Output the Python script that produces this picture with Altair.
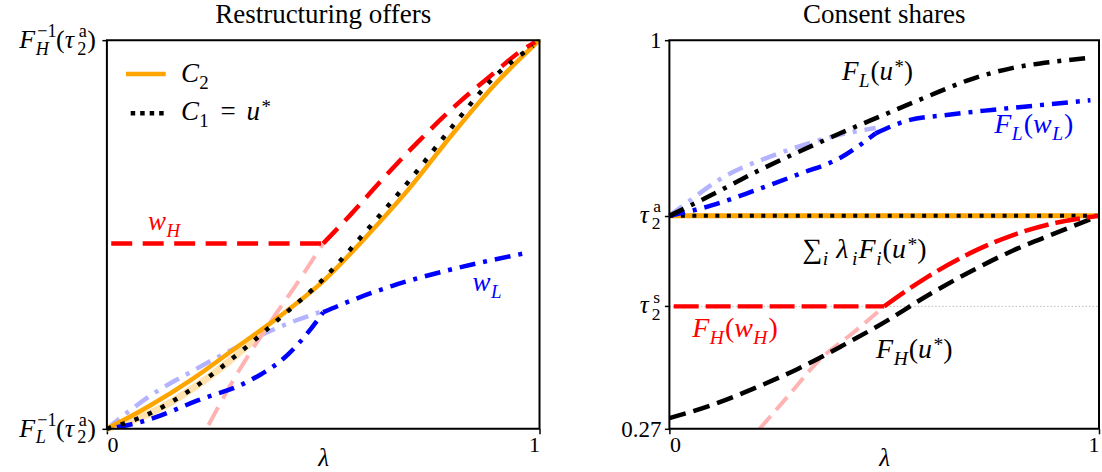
import altair as alt
import pandas as pd

SERIF = "Liberation Serif"
ORANGE, RED, BLUE, BLACK = "#ffa500", "#ff0000", "#0000ff", "#000000"
PINK, LIGHTBLUE, LIGHTORANGE = "#ffb3b3", "#b3b3ff", "#ffe2ad"

# ---------------- Restructuring offers (left panel) ----------------
lam_c2 = [0.0, 0.1, 0.2, 0.3, 0.4, 0.5, 0.6, 0.7, 0.8, 0.9, 1.0]
c2 = [0.0, 0.06, 0.13, 0.21, 0.29, 0.38, 0.495, 0.62, 0.76, 0.89, 1.0]

lam_c1 = [0.0, 0.1, 0.2, 0.3, 0.4, 0.5, 0.6, 0.7, 0.8, 0.9, 0.985]
c1 = [0.0, 0.04, 0.105, 0.19, 0.285, 0.385, 0.51, 0.64, 0.78, 0.91, 0.985]

lam_c1_faded = [0.0, 0.1, 0.2, 0.3, 0.36]
c1_faded = [0.0, 0.04, 0.105, 0.19, 0.25]

lam_wh_flat = [0.01, 0.5]
wh_flat = [0.477, 0.477]
lam_wh = [0.5, 0.565, 0.627, 0.718, 0.818, 0.892, 0.958, 0.99]
wh = [0.477, 0.553, 0.63, 0.737, 0.844, 0.913, 0.973, 0.995]

lam_wh_faded = [0.235, 0.30, 0.38, 0.44, 0.50]
wh_faded = [0.01, 0.14, 0.278, 0.375, 0.477]

lam_wl_low = [0.023, 0.089, 0.21, 0.33, 0.42, 0.462, 0.50]
wl_low = [0.004, 0.021, 0.073, 0.124, 0.193, 0.244, 0.30]
lam_wl_high = [0.50, 0.536, 0.66, 0.785, 0.967]
wl_high = [0.30, 0.317, 0.368, 0.407, 0.452]

lam_wl_faded = [0.0, 0.1, 0.2, 0.3, 0.38, 0.44, 0.5]
wl_faded = [0.0, 0.085, 0.15, 0.21, 0.253, 0.28, 0.303]

# ---------------- Consent shares (right panel) ----------------
TAU_A, TAU_S, Y_MIN = 0.67, 0.50, 0.27

lam_flu = [0.0, 0.1, 0.2, 0.3, 0.4, 0.5, 0.6, 0.7, 0.8, 0.9, 0.98]
flu = [0.67, 0.71, 0.752, 0.79, 0.826, 0.86, 0.894, 0.926, 0.948, 0.96, 0.967]

lam_flw_low = [0.0, 0.1, 0.2, 0.3, 0.4, 0.48]
flw_low = [0.67, 0.69, 0.718, 0.748, 0.78, 0.825]
lam_flw_high = [0.48, 0.55, 0.65, 0.75, 0.85, 0.98]
flw_high = [0.825, 0.848, 0.86, 0.869, 0.877, 0.887]

lam_flw_faded = [0.0, 0.05, 0.12, 0.23, 0.30, 0.40, 0.48]
flw_faded = [0.67, 0.70, 0.74, 0.78, 0.80, 0.823, 0.835]

lam_fhu = [0.0, 0.1, 0.2, 0.3, 0.4, 0.5, 0.6, 0.7, 0.8, 0.9, 1.0]
fhu = [0.29, 0.315, 0.347, 0.383, 0.425, 0.47, 0.52, 0.565, 0.605, 0.638, 0.67]

lam_fhw_flat = [0.01, 0.5]
fhw_flat = [0.50, 0.50]
lam_fhw = [0.5, 0.6, 0.7, 0.8, 0.9, 1.0]
fhw = [0.50, 0.555, 0.60, 0.634, 0.657, 0.67]

lam_fhw_faded = [0.21, 0.28, 0.35, 0.43, 0.50]
fhw_faded = [0.27, 0.335, 0.40, 0.452, 0.50]

lam_sum = [0.0, 1.0]
sum_share = [TAU_A, TAU_A]

W_LEFT, W_RIGHT, HEIGHT = 433, 430, 389

# Approximate advance widths (em) for the serif faces used in the math labels
RM_W = {"0": .5, "1": .5, "2": .5, "7": .5, ".": .25, "(": .333, ")": .333,
        "=": .564, "−": .564, "a": .444, "s": .389, "*": .5, "∑": .72}
IT_W = {"F": .611, "H": .722, "L": .556, "C": .667, "u": .5, "w": .667,
        "i": .278, "λ": .55, "τ": .46}


def text_width(s, size, italic):
    table = IT_W if italic else RM_W
    return sum(table.get(ch, 0.5) for ch in s) * size


def piece_width(p, size):
    if p[0] == "sp":
        return p[1] * size
    if p[0] == "stack":
        _, sub, sup = p
        return max(text_width(sub[0], size * .7, sub[1]), text_width(sup[0], size * .7, sup[1])) + 1.5
    text, pos, italic = p
    s = size if pos == "n" else size * .7
    return text_width(text, s, italic) + (1.5 if pos != "n" else 0)


def rich(parts, lam, val, xenc, yenc, color, size, align="left", gap=0.0, base_dy=0.0):
    """Math-style label built from upright/italic pieces with sub- and superscripts."""
    total = sum(piece_width(p, size) for p in parts)
    if align == "left":
        cur = gap
    elif align == "right":
        cur = -total - gap
    else:
        cur = -total / 2
    df = pd.DataFrame({"lam": [lam], "val": [val]})
    layers = []

    def put(text, dx, dy, s, italic):
        layers.append(
            alt.Chart(df).mark_text(
                text=text, dx=dx, dy=base_dy + dy, fontSize=s, font=SERIF,
                fontStyle="italic" if italic else "normal",
                align="left", baseline="alphabetic", color=color,
            ).encode(x=xenc, y=yenc)
        )

    for p in parts:
        if p[0] == "stack":
            _, sub, sup = p
            put(sub[0], cur + 0.5, size * .25, size * .7, sub[1])
            put(sup[0], cur + 2.0, -size * .42, size * .7, sup[1])
        elif p[0] != "sp":
            text, pos, italic = p
            if pos == "n":
                put(text, cur, 0, size, italic)
            elif pos == "b":
                put(text, cur + 0.5, size * .25, size * .7, italic)
            else:
                put(text, cur + 1.5, -size * .25, size * .7, italic)
        cur += piece_width(p, size)
    return layers


def axis_x():
    return alt.Axis(values=[0, 1], format="d", title="λ", grid=False, domain=False,
                    tickSize=5, tickWidth=1.5, tickColor=BLACK,
                    labelFont=SERIF, labelFontSize=22, labelColor=BLACK, labelPadding=1,
                    titleFont=SERIF, titleFontStyle="italic", titleFontWeight="normal",
                    titleFontSize=25, titleColor=BLACK, titlePadding=-10)


def axis_y(values):
    return alt.Axis(values=values, labels=False, title=None, grid=False, domain=False,
                    tickSize=5, tickWidth=1.5, tickColor=BLACK)


def curve(lams, vals, xenc, yenc, color, width, dash=None, smooth=True):
    df = pd.DataFrame({"lam": lams, "val": vals})
    kw = dict(color=color, strokeWidth=width, strokeCap="butt", strokeJoin="round")
    if smooth:
        kw["interpolate"] = "monotone"
    if dash:
        kw["strokeDash"] = dash
    return alt.Chart(df).mark_line(**kw).encode(x=xenc, y=yenc)


def frame_and_title(text, width):
    box = alt.Chart(pd.DataFrame({"lam": [0]})).mark_rect(
        fillOpacity=0, stroke=BLACK, strokeWidth=2
    ).encode(x=alt.value(0), x2=alt.value(width), y=alt.value(0), y2=alt.value(HEIGHT))
    title = alt.Chart(pd.DataFrame({"lam": [0]})).mark_text(
        text=text, font=SERIF, fontSize=27, color=BLACK, align="center", baseline="alphabetic"
    ).encode(x=alt.value(width / 2), y=alt.value(-17))
    return [box, title]


DASHDOT = [16, 8, 4, 8]
TICK_DY = 8

# ---------------- left panel ----------------
xl = alt.X("lam:Q", scale=alt.Scale(domain=[0, 1], nice=False, zero=False), axis=axis_x())
yl = alt.Y("val:Q", scale=alt.Scale(domain=[0, 1], nice=False, zero=False), axis=axis_y([0, 1]))

left_layers = [
    curve(lam_wl_faded, wl_faded, xl, yl, LIGHTBLUE, 4.5, DASHDOT),
    curve(lam_c1_faded, c1_faded, xl, yl, LIGHTORANGE, 7),
    curve(lam_wh_faded, wh_faded, xl, yl, PINK, 4, [20, 10]),
    curve(lam_c2, c2, xl, yl, ORANGE, 4.5),
    curve(lam_wl_low, wl_low, xl, yl, BLUE, 4.5, DASHDOT),
    curve(lam_wl_high, wl_high, xl, yl, BLUE, 4.5, DASHDOT),
    curve(lam_wh_flat, wh_flat, xl, yl, RED, 4.5, [21, 10.5], smooth=False),
    curve(lam_wh, wh, xl, yl, RED, 4.5, [21, 10.5]),
    curve(lam_c1, c1, xl, yl, BLACK, 4.5, [4.5, 10]),
]

# legend
left_layers.append(curve([0.044, 0.136], [0.913, 0.913], xl, yl, ORANGE, 4.5, smooth=False))
left_layers.append(curve([0.055, 0.14], [0.812, 0.812], xl, yl, BLACK, 4.5, [4.5, 5], smooth=False))
left_layers += rich([("C", "n", True), ("2", "b", False)], 0.171, 0.892, xl, yl, BLACK, 27)
left_layers += rich([("C", "n", True), ("1", "b", False), ("sp", 0.4), ("=", "n", False),
                     ("sp", 0.4), ("u", "n", True), ("*", "p", False)],
                    0.171, 0.794, xl, yl, BLACK, 27)

# curve annotations
left_layers += rich([("w", "n", True), ("H", "b", True)], 0.095, 0.512, xl, yl, RED, 27)
left_layers += rich([("w", "n", True), ("L", "b", True)], 0.845, 0.355, xl, yl, BLUE, 27)

# y tick labels
ytick_top = [("F", "n", True), ("stack", ("H", True), ("−1", False)), ("(", "n", False),
             ("τ", "n", True), ("stack", ("2", False), ("a", False)), (")", "n", False)]
ytick_bot = [("F", "n", True), ("stack", ("L", True), ("−1", False)), ("(", "n", False),
             ("τ", "n", True), ("stack", ("2", False), ("a", False)), (")", "n", False)]
for parts, v in [(ytick_top, 1.0), (ytick_bot, 0.0)]:
    left_layers += rich(parts, 0.0, v, xl, yl, BLACK, 26, align="right", gap=11, base_dy=TICK_DY)

left_layers += frame_and_title("Restructuring offers", W_LEFT)

# fixes the top-left corner of the drawing
anchor = alt.Chart(pd.DataFrame({"lam": [0]})).mark_rule(opacity=0).encode(
    x=alt.value(-107), x2=alt.value(-100), y=alt.value(-40)
)
left_layers.append(anchor)

left = alt.layer(*left_layers).properties(width=W_LEFT, height=HEIGHT)

# ---------------- right panel ----------------
xr = alt.X("lam:Q", scale=alt.Scale(domain=[0, 1], nice=False, zero=False), axis=axis_x())
yr = alt.Y("val:Q", scale=alt.Scale(domain=[Y_MIN, 1], nice=False, zero=False),
           axis=axis_y([Y_MIN, TAU_S, TAU_A, 1]))

right_layers = [
    curve([0, 1], [TAU_S, TAU_S], xr, yr, "#bbbbbb", 1, [1.5, 2], smooth=False),
    curve(lam_flw_faded, flw_faded, xr, yr, LIGHTBLUE, 4.5, DASHDOT),
    curve(lam_fhw_faded, fhw_faded, xr, yr, PINK, 4, [17, 8]),
    curve(lam_sum, sum_share, xr, yr, ORANGE, 5, smooth=False),
    curve(lam_sum, sum_share, xr, yr, BLACK, 4, [4, 7.5], smooth=False),
    curve(lam_flw_low, flw_low, xr, yr, BLUE, 4.5, DASHDOT),
    curve(lam_flw_high, flw_high, xr, yr, BLUE, 4.5, DASHDOT),
    curve(lam_flu, flu, xr, yr, BLACK, 4.5, DASHDOT),
    curve(lam_fhu, fhu, xr, yr, BLACK, 4.5, [17, 8]),
    curve(lam_fhw_flat, fhw_flat, xr, yr, RED, 4.5, [25, 7], smooth=False),
    curve(lam_fhw, fhw, xr, yr, RED, 4.5, [25, 7]),
]

right_layers += rich([("F", "n", True), ("L", "b", True), ("(", "n", False), ("u", "n", True),
                      ("*", "p", False), (")", "n", False)], 0.402, 0.925, xr, yr, BLACK, 27)
right_layers += rich([("F", "n", True), ("L", "b", True), ("(", "n", False), ("w", "n", True),
                      ("L", "b", True), (")", "n", False)], 0.756, 0.8255, xr, yr, BLUE, 28)
right_layers += rich([("∑", "n", False), ("i", "b", True), ("sp", 0.25), ("λ", "n", True),
                      ("i", "b", True), ("F", "n", True), ("i", "b", True), ("(", "n", False),
                      ("u", "n", True), ("*", "p", False), (")", "n", False)],
                     0.309, 0.591, xr, yr, BLACK, 28)
right_layers += rich([("F", "n", True), ("H", "b", True), ("(", "n", False), ("w", "n", True),
                      ("H", "b", True), (")", "n", False)], 0.053, 0.443, xr, yr, RED, 28)
right_layers += rich([("F", "n", True), ("H", "b", True), ("(", "n", False), ("u", "n", True),
                      ("*", "p", False), (")", "n", False)], 0.481, 0.403, xr, yr, BLACK, 28)

# y tick labels
right_layers += rich([("1", "n", False)], 0.0, 1.0, xr, yr, BLACK, 23, align="right", gap=8,
                     base_dy=TICK_DY)
right_layers += rich([("τ", "n", True), ("stack", ("2", False), ("a", False))], 0.0, TAU_A,
                     xr, yr, BLACK, 25, align="right", gap=8, base_dy=TICK_DY - 1)
right_layers += rich([("τ", "n", True), ("stack", ("2", False), ("s", False))], 0.0, TAU_S,
                     xr, yr, BLACK, 25, align="right", gap=8, base_dy=TICK_DY - 1)
right_layers += rich([("0.27", "n", False)], 0.0, Y_MIN, xr, yr, BLACK, 23, align="right", gap=8,
                     base_dy=TICK_DY)

right_layers += frame_and_title("Consent shares", W_RIGHT)

right = alt.layer(*right_layers).properties(width=W_RIGHT, height=HEIGHT)

chart = alt.hconcat(left, right, spacing=130, bounds="flush").properties(
    padding=0, autosize=alt.AutoSizeParams(type="pad"),
).configure_view(strokeWidth=0)

chart.save("out.html", embed_options={"renderer": "svg", "actions": False})
